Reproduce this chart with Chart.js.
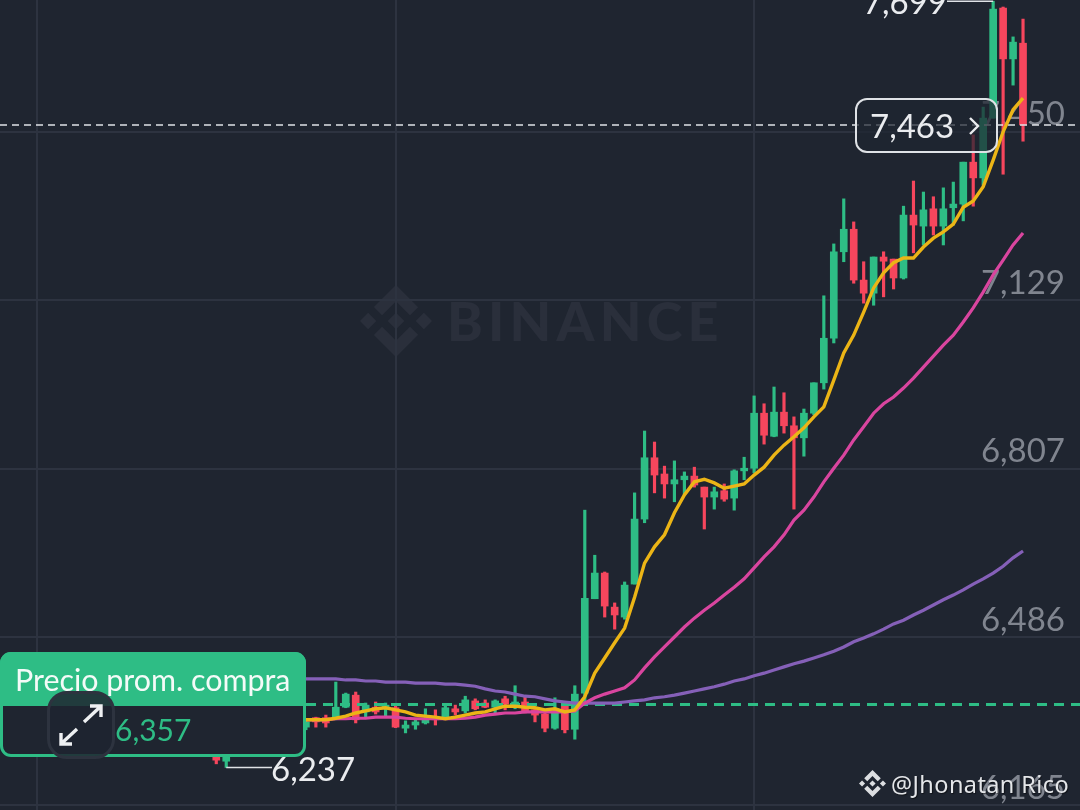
<!DOCTYPE html>
<html>
<head>
<meta charset="utf-8">
<title>BNB candles</title>
<script src="https://cdn.jsdelivr.net/npm/chart.js@4/dist/chart.umd.js"></script>
<style>
  html, body { margin: 0; padding: 0; background: #1f2530; }
  #stage { position: relative; width: 1080px; height: 810px; overflow: hidden; background: #1f2530; font-family: Lato, sans-serif; }
  #stage > * { position: absolute; }
  canvas { left: 0; top: 0; }
  #wmLogo { left: 360px; top: 285px; width: 72px; height: 72px; fill: #2a2f3b; }
  #wmText { left: 447px; top: 288px; font-size: 54px; line-height: 66px; font-weight: 900; letter-spacing: 5.2px; color: #2a2f3b; white-space: nowrap; }
  #panel { left: 0; top: 652px; width: 300px; height: 99px; border: 3px solid #2ebd85; border-radius: 11px; background: #1f2530; }
  #panelHead { position: absolute; left: -3px; top: -3px; width: 306px; height: 54px; background: #2ebd85; border-radius: 11px 11px 0 0; color: #f4fbf8; font-size: 30.4px; line-height: 55px; text-indent: 15px; white-space: nowrap; }
  #panelValue { left: 115px; top: 711px; color: #2ebd85; font-size: 30px; line-height: 36px; }
  #expand { left: 47px; top: 691px; width: 62px; height: 62px; border: 3px solid #2d333f; border-radius: 20px; background: rgba(31,37,48,.85); }
  #lastBox { left: 855px; top: 98px; width: 139px; height: 51px; border: 2px solid #dfe2e6; border-radius: 12px; background: rgba(31,37,48,.72); color: #eaecef; font-size: 33px; line-height: 51px; text-indent: 13px; }
  #lastBox svg { position: absolute; left: 110px; top: 16px; }
  #authorLogo { left: 859px; top: 770px; width: 27px; height: 27px; fill: #dcdee1; }
  #author { left: 891px; top: 767px; font-family: "Noto Sans", sans-serif; font-size: 23.5px; line-height: 34px; color: #e4e6e9; letter-spacing: 0.4px; white-space: nowrap; text-shadow: 1px 1px 1px rgba(0,0,0,.5); }
</style>
</head>
<body>
<div id="stage">
  <svg id="wmLogo" viewBox="0 0 126.6 126.6"><path d="M38.73 53.2 63.3 28.63l24.6 24.6 14.3-14.3L63.3 0 24.42 38.9zM0 63.3l14.3-14.3 14.3 14.3-14.3 14.3zM38.73 73.41 63.3 97.98l24.6-24.6 14.31 14.29L63.3 126.6 24.42 87.7zM97.99 63.31l14.3-14.3 14.31 14.3-14.31 14.3zM77.83 63.3 63.3 48.76 48.78 63.28l14.52 14.53z"/></svg>
  <div id="wmText">BINANCE</div>
  <canvas id="candles" width="1080" height="810"></canvas>
  <div id="lastBox">7,463
    <svg width="14" height="20" viewBox="0 0 14 20"><path d="M3 2l8 8-8 8" fill="none" stroke="#eaecef" stroke-width="2.4"/></svg>
  </div>
  <div id="panel"><div id="panelHead">Precio prom. compra</div></div>
  <div id="panelValue">6,357</div>
  <div id="expand">
    <svg width="62" height="62" viewBox="0 0 62 62"><path d="M34 28 50 13M40 12h11v11M27 35 12 49M11 39v11h11" fill="none" stroke="#eef0f2" stroke-width="3.4"/></svg>
  </div>
  <svg id="authorLogo" viewBox="0 0 126.6 126.6"><path d="M38.73 53.2 63.3 28.63l24.6 24.6 14.3-14.3L63.3 0 24.42 38.9zM0 63.3l14.3-14.3 14.3 14.3-14.3 14.3zM38.73 73.41 63.3 97.98l24.6-24.6 14.31 14.29L63.3 126.6 24.42 87.7zM97.99 63.31l14.3-14.3 14.31 14.3-14.31 14.3zM77.83 63.3 63.3 48.76 48.78 63.28l14.52 14.53z"/></svg>
  <div id="author">@Jhonatan Rico</div>
</div>
<script>
// candles, slot 18 to 99 (20-26 sit behind the panel)
const firstSlot = 18;
const opens = [6259, 6249, null, null, null, null, null, null, null,
  6314, 6332, 6332, 6332, 6352, 6375, 6343, 6352, 6349, 6351, 6312, 6318, 6322, 6333, 6333, 6349, 6345, 6364, 6360, 6352, 6368, 6352, 6362, 6347, 6339, 6312, 6356, 6310,
  6379, 6559, 6608, 6543, 6524, 6587, 6711, 6828, 6797, 6778, 6786, 6793, 6772, 6753, 6765, 6751, 6803, 6808, 6913, 6869, 6915, 6889, 6866, 6913, 6971, 7056, 7221, 7264, 7167, 7142, 7211, 7207, 7171, 7291, 7270, 7303, 7270, 7305, 7312, 7392, 7362, 7476, 7686, 7589, 7619];
const highs = [6261, 6261, null, null, null, null, null, null, null,
  6328, 6333, 6337, 6400, 6379, 6381, 6360, 6362, 6360, 6354, 6326, 6328, 6349, 6347, 6354, 6356, 6373, 6368, 6366, 6366, 6373, 6393, 6372, 6351, 6341, 6370, 6360, 6393,
  6728, 6642, 6610, 6551, 6591, 6761, 6879, 6858, 6812, 6822, 6801, 6810, 6772, 6772, 6778, 6805, 6829, 6946, 6931, 6963, 6952, 6906, 6921, 6971, 7137, 7236, 7322, 7278, 7202, 7211, 7221, 7207, 7308, 7356, 7335, 7326, 7343, 7354, 7392, 7444, 7497, 7699, 7688, 7631, 7665];
const lows = [6244, 6237, null, null, null, null, null, null, null,
  6309, 6314, 6314, 6328, 6351, 6322, 6333, 6339, 6335, 6313, 6303, 6310, 6320, 6318, 6331, 6337, 6341, 6347, 6351, 6341, 6347, 6349, 6341, 6324, 6305, 6310, 6303, 6291,
  6360, 6559, 6524, 6501, 6520, 6587, 6704, 6761, 6751, 6744, 6757, 6772, 6692, 6730, 6745, 6728, 6786, 6799, 6854, 6868, 6875, 6730, 6831, 6910, 6959, 7047, 7202, 7161, 7123, 7119, 7135, 7150, 7169, 7219, 7234, 7253, 7234, 7272, 7280, 7308, 7348, 7476, 7369, 7539, 7432];
const closes = [6251, 6257, null, null, null, null, null, null, null,
  6324, 6324, 6322, 6352, 6377, 6328, 6356, 6343, 6356, 6314, 6318, 6324, 6328, 6328, 6351, 6343, 6366, 6349, 6352, 6364, 6358, 6362, 6343, 6337, 6312, 6343, 6309, 6377,
  6560, 6608, 6545, 6528, 6585, 6711, 6828, 6795, 6778, 6786, 6793, 6776, 6753, 6763, 6749, 6803, 6808, 6913, 6871, 6915, 6889, 6866, 6913, 6971, 7056, 7221, 7264, 7167, 7142, 7211, 7203, 7171, 7291, 7272, 7301, 7270, 7303, 7312, 7392, 7362, 7476, 7684, 7589, 7621, 7463];

// moving averages, slot 27 to 99
const firstMaSlot = 27;
const ma7 = [6328, 6328, 6328, 6331, 6335, 6341, 6345, 6349, 6351, 6347, 6343, 6337, 6335, 6333, 6330, 6333, 6337, 6341, 6343, 6349, 6354, 6354, 6352, 6351, 6347, 6349, 6343, 6347,
  6372, 6417, 6446, 6475, 6503, 6562, 6627, 6658, 6681, 6723, 6757, 6782, 6787, 6780, 6770, 6774, 6778, 6795, 6810, 6833, 6852, 6868, 6885, 6906, 6925, 6976, 7028, 7062, 7106, 7152, 7181, 7200, 7209, 7209, 7230, 7247, 7259, 7274, 7306, 7318, 7345, 7396, 7450, 7492, 7514];
const ma25 = [6328, 6328, 6328, 6330, 6330, 6331, 6331, 6333, 6333, 6333, 6331, 6330, 6330, 6330, 6330, 6330, 6331, 6333, 6337, 6339, 6341, 6341, 6343, 6343, 6343, 6343, 6343, 6345,
  6360, 6370, 6377, 6383, 6389, 6404, 6427, 6448, 6467, 6486, 6505, 6522, 6537, 6551, 6566, 6581, 6597, 6618, 6639, 6658, 6681, 6709, 6728, 6753, 6782, 6808, 6833, 6862, 6887, 6913, 6931, 6944, 6961, 6980, 7001, 7022, 7043, 7062, 7087, 7114, 7144, 7177, 7205, 7234, 7257];
const ma99 = [6406, 6406, 6406, 6406, 6404, 6404, 6402, 6402, 6400, 6400, 6400, 6398, 6398, 6398, 6396, 6396, 6394, 6392, 6387, 6383, 6381, 6377, 6373, 6372, 6368, 6364, 6362, 6360,
  6360, 6360, 6360, 6360, 6362, 6364, 6366, 6370, 6372, 6375, 6379, 6383, 6387, 6391, 6396, 6402, 6406, 6412, 6417, 6423, 6429, 6435, 6440, 6446, 6452, 6459, 6467, 6477, 6484, 6492, 6501, 6511, 6518, 6528, 6537, 6547, 6557, 6566, 6576, 6587, 6597, 6608, 6621, 6637, 6650];

const priceTicks = [6165, 6486, 6807, 7129, 7450];
const gridSlots = [0, 36, 72];
const lastPrice = 7463;
const avgBuyPrice = 6357;
const maxMark = { slot: 96, price: 7699, text: '7,699' };
const minMark = { slot: 19, price: 6237, text: '6,237' };

const GREEN = '#2ebd85', RED = '#f6465d';
const slots = opens.map((_, k) => firstSlot + k);
const candleColors = opens.map((o, k) => closes[k] >= o ? GREEN : RED);
const maPoints = values => values.map((v, k) => ({ x: firstMaSlot + k, y: v }));
const xMin = -3.715, xMax = 104.72;
const flatLine = price => [{ x: xMin, y: price }, { x: xMax, y: price }];

// min / max markers next to the candles
const markers = {
  id: 'markers',
  afterDatasetsDraw(chart) {
    const { ctx, scales: { x, y } } = chart;
    ctx.save();
    ctx.strokeStyle = '#dfe2e6';
    ctx.lineWidth = 1.5;
    ctx.fillStyle = '#eaecef';
    ctx.font = '33px Lato';
    ctx.textBaseline = 'middle';
    const mx = x.getPixelForValue(maxMark.slot), my = y.getPixelForValue(maxMark.price);
    ctx.beginPath(); ctx.moveTo(mx, my); ctx.lineTo(947, my); ctx.stroke();
    ctx.textAlign = 'right';
    ctx.fillText(maxMark.text, 947, my + 2);
    const nx = x.getPixelForValue(minMark.slot), ny = y.getPixelForValue(minMark.price);
    ctx.beginPath(); ctx.moveTo(nx, ny); ctx.lineTo(272, ny); ctx.stroke();
    ctx.textAlign = 'left';
    ctx.fillText(minMark.text, 271, ny + 3);
    ctx.restore();
  }
};

new Chart(document.getElementById('candles'), {
  type: 'bar',
  data: {
    datasets: [
      // bodies and wicks are floating bars
      {
        label: 'Body', order: 5, grouped: false, barThickness: 7,
        data: slots.map((s, k) => ({ x: s, y: opens[k] === null ? null : [Math.min(opens[k], closes[k]), Math.max(opens[k], closes[k])] })),
        backgroundColor: candleColors
      },
      {
        label: 'Wick', order: 6, grouped: false, barThickness: 2.5,
        data: slots.map((s, k) => ({ x: s, y: highs[k] === null ? null : [lows[k], highs[k]] })),
        backgroundColor: candleColors
      },
      { type: 'line', label: 'MA99', order: 3, data: maPoints(ma99), borderColor: '#8560b8', borderWidth: 3.2, pointRadius: 0, tension: 0 },
      { type: 'line', label: 'MA25', order: 2, data: maPoints(ma25), borderColor: '#d9459f', borderWidth: 3.2, pointRadius: 0, tension: 0 },
      { type: 'line', label: 'MA7', order: 1, data: maPoints(ma7), borderColor: '#ecb516', borderWidth: 3.4, pointRadius: 0, tension: 0 },
      { type: 'line', label: 'Last', order: 4, data: flatLine(lastPrice), borderColor: '#dfe2e6', borderWidth: 1.5, borderDash: [7, 5], pointRadius: 0 },
      { type: 'line', label: 'Avg buy', order: 4, data: flatLine(avgBuyPrice), borderColor: GREEN, borderWidth: 3, borderDash: [10, 7], pointRadius: 0 }
    ]
  },
  options: {
    responsive: false,
    animation: false,
    layout: { padding: 0 },
    plugins: { legend: { display: false }, tooltip: { enabled: false } },
    scales: {
      x: {
        type: 'linear', min: xMin, max: xMax, offset: false,
        afterBuildTicks: scale => { scale.ticks = gridSlots.map(v => ({ value: v })); },
        ticks: { display: false },
        border: { display: false },
        grid: { color: '#2d3340', lineWidth: 2, drawTicks: false, offset: false }
      },
      y: {
        position: 'right', min: 6155.9, max: 7701.4,
        afterBuildTicks: scale => { scale.ticks = priceTicks.map(v => ({ value: v })); },
        // axis takes no room, its labels sit inside the plot
        afterFit: scale => { scale.width = 0; scale.paddingTop = 0; scale.paddingBottom = 0; },
        ticks: {
          mirror: true, padding: -15, labelOffset: -17, color: '#80858f',
          font: { family: 'Lato', size: 33 },
          callback: v => v.toLocaleString('en-US')
        },
        border: { display: false },
        grid: { color: '#2d3340', lineWidth: 2, drawTicks: false }
      }
    }
  },
  plugins: [markers]
});
</script>
</body>
</html>
